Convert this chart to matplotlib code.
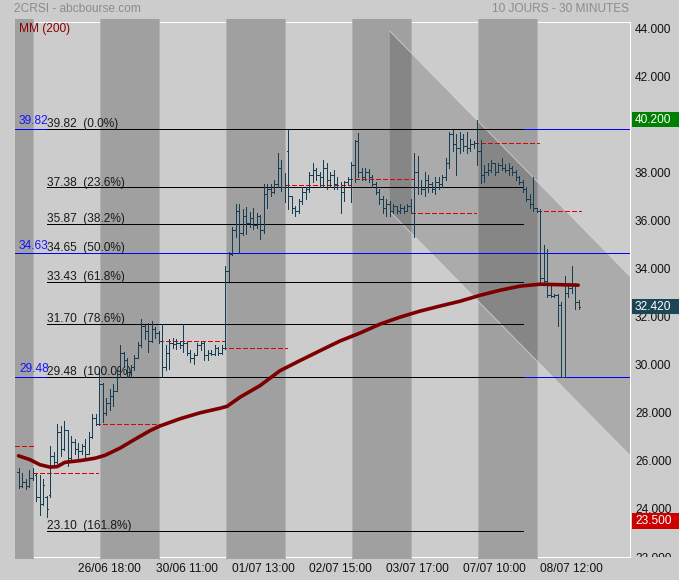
import matplotlib
matplotlib.use('Agg')
import matplotlib.pyplot as plt
import numpy as np
from matplotlib.collections import LineCollection
from matplotlib.patches import Polygon, Rectangle
from matplotlib.transforms import Bbox, TransformedBbox, blended_transform_factory

plt.rcParams['font.family'] = ['Liberation Sans', 'DejaVu Sans']

# ---------------- data (open, high, low, close) per trading day ----------------
day_25_06 = [(25.55, 25.71, 24.88, 24.95), (24.95, 25.50, 24.90, 25.10), (25.10, 25.25, 24.85, 24.95),
             (24.95, 25.60, 24.90, 25.30), (25.30, 25.70, 25.20, 25.51)]
day_26_06 = [(25.42, 25.45, 24.31, 24.50), (24.50, 25.42, 23.73, 24.20), (24.20, 25.26, 24.15, 25.00),
             (24.50, 24.55, 23.68, 24.00), (24.60, 26.63, 24.51, 26.20), (26.20, 26.38, 25.80, 25.95),
             (25.95, 27.54, 25.90, 27.20), (27.20, 27.46, 26.20, 26.50), (26.50, 27.67, 26.45, 27.30),
             (27.30, 27.30, 25.80, 26.10), (26.10, 27.05, 26.00, 26.80), (26.80, 26.92, 26.30, 26.50),
             (26.50, 26.75, 26.05, 26.40), (26.40, 26.70, 26.30, 26.60), (26.60, 26.90, 26.10, 26.30),
             (26.30, 27.20, 26.30, 27.00), (27.00, 27.95, 26.95, 27.80), (27.80, 27.95, 27.50, 27.54)]
day_27_06 = [(27.54, 29.70, 27.50, 29.20), (29.20, 29.25, 27.62, 28.00), (28.00, 28.60, 27.90, 28.40),
             (28.40, 29.00, 28.10, 28.70), (28.70, 29.20, 28.30, 28.90), (28.90, 29.80, 28.90, 29.60),
             (29.60, 30.80, 29.48, 30.50), (30.50, 30.55, 29.90, 30.20), (30.20, 30.30, 29.50, 29.70),
             (29.70, 30.00, 29.49, 29.90), (29.90, 30.40, 29.80, 30.30), (30.30, 30.95, 30.30, 30.80),
             (30.80, 31.90, 30.75, 31.60), (31.60, 31.65, 31.05, 31.40), (31.40, 31.75, 30.55, 31.00),
             (31.00, 31.80, 30.95, 31.50), (31.50, 31.55, 31.10, 31.30), (31.30, 31.40, 30.90, 30.97)]
day_30_06 = [(30.97, 31.69, 29.53, 29.90), (29.90, 30.80, 29.80, 30.50), (30.50, 31.07, 29.82, 30.90),
             (30.90, 31.10, 30.70, 30.85), (30.85, 31.05, 30.65, 30.90), (30.90, 31.00, 30.70, 30.80),
             (30.80, 31.69, 30.55, 30.90), (30.90, 30.95, 30.40, 30.50), (30.50, 30.60, 30.10, 30.30),
             (30.30, 30.50, 30.05, 30.40), (30.40, 30.90, 30.40, 30.80), (30.80, 31.00, 30.60, 30.90),
             (30.90, 30.95, 30.20, 30.40), (30.40, 30.60, 30.20, 30.50), (30.50, 30.60, 30.40, 30.45),
             (30.45, 30.80, 30.40, 30.70), (30.70, 30.75, 30.40, 30.50), (30.50, 30.80, 30.45, 30.68)]
day_01_07 = [(30.68, 34.10, 30.65, 33.90), (33.90, 34.67, 33.47, 34.60), (34.60, 35.75, 34.55, 35.60),
             (35.60, 36.67, 35.30, 36.40), (36.40, 36.67, 34.70, 35.50), (35.50, 36.46, 35.40, 36.20),
             (36.20, 36.55, 35.42, 35.90), (35.90, 36.35, 35.75, 36.10), (36.10, 36.50, 35.63, 35.80),
             (35.80, 36.30, 35.70, 36.20), (36.20, 36.25, 35.21, 35.60), (35.60, 37.50, 35.50, 37.10),
             (37.10, 37.50, 36.54, 37.30), (37.30, 37.50, 37.00, 37.20), (37.20, 37.70, 37.15, 37.50),
             (37.50, 38.82, 37.40, 38.20), (38.20, 38.53, 37.21, 37.40), (37.40, 37.99, 36.79, 37.49)]
day_02_07 = [(38.90, 39.78, 36.46, 37.00), (37.00, 37.00, 36.33, 36.50), (36.50, 36.60, 36.20, 36.40),
             (36.40, 36.90, 36.30, 36.80), (36.80, 37.40, 36.70, 37.20), (37.20, 37.40, 36.90, 37.30),
             (37.30, 38.00, 37.20, 37.90), (37.90, 38.40, 37.60, 38.10), (38.10, 38.20, 37.70, 37.90),
             (37.90, 38.00, 37.40, 37.80), (37.80, 38.50, 37.40, 38.20), (38.20, 38.40, 37.30, 37.70),
             (37.70, 38.00, 37.40, 37.90), (37.90, 38.10, 37.30, 37.50), (37.50, 37.80, 37.30, 37.40),
             (37.40, 37.60, 36.30, 37.20), (37.20, 37.65, 36.80, 37.60), (37.60, 37.80, 37.50, 37.73)]
day_03_07 = [(37.73, 38.45, 36.75, 38.30), (38.30, 39.36, 37.60, 39.30), (39.30, 39.65, 37.80, 38.00),
             (38.00, 38.20, 37.70, 37.80), (37.80, 38.20, 37.70, 38.00), (38.00, 38.15, 37.60, 37.80),
             (37.80, 37.90, 37.40, 37.50), (37.50, 37.60, 37.10, 37.20), (37.20, 37.30, 36.70, 36.90),
             (36.90, 37.00, 36.30, 36.50), (36.50, 36.90, 36.20, 36.70), (36.70, 36.80, 36.20, 36.40),
             (36.40, 36.70, 36.30, 36.60), (36.60, 36.60, 36.30, 36.40), (36.40, 36.70, 36.30, 36.50),
             (36.50, 36.60, 36.30, 36.40), (36.40, 36.70, 36.40, 36.60), (36.60, 36.90, 36.30, 36.32)]
day_04_07 = [(36.32, 38.82, 35.30, 38.00), (38.00, 38.70, 37.10, 37.40), (37.40, 37.70, 37.10, 37.30),
             (37.30, 38.00, 37.00, 37.70), (37.70, 37.90, 37.20, 37.50), (37.50, 37.60, 37.20, 37.30),
             (37.30, 37.80, 37.10, 37.60), (37.60, 37.80, 37.30, 37.50), (37.50, 37.90, 37.40, 37.80),
             (37.80, 38.60, 37.70, 38.40), (38.40, 39.70, 38.20, 39.60), (39.60, 39.75, 38.90, 39.20),
             (39.20, 39.60, 37.90, 39.00), (39.00, 39.70, 38.80, 39.40), (39.40, 39.60, 38.90, 39.10),
             (39.10, 39.70, 38.80, 39.00), (39.00, 39.40, 38.90, 39.20), (39.20, 39.30, 39.00, 39.23)]
day_07_07 = [(39.23, 40.20, 38.30, 38.90), (38.90, 39.36, 37.58, 37.90), (37.90, 38.30, 37.60, 38.00),
             (38.00, 38.40, 37.90, 38.10), (38.10, 38.50, 38.00, 38.40), (38.40, 38.40, 37.90, 38.00),
             (38.00, 38.40, 38.00, 38.30), (38.30, 38.60, 38.10, 38.20), (38.20, 38.35, 38.00, 38.10),
             (38.10, 38.40, 37.90, 38.20), (38.20, 38.25, 37.90, 38.00), (38.00, 38.10, 37.70, 37.80),
             (37.80, 37.85, 37.50, 37.60), (37.60, 37.70, 37.20, 37.30), (37.30, 37.40, 36.80, 36.90),
             (36.90, 37.10, 36.50, 36.70), (36.70, 37.79, 36.40, 36.50), (36.50, 36.50, 36.35, 36.40)]
day_08_07 = [(36.40, 36.46, 33.35, 33.60), (33.60, 35.00, 33.35, 33.50), (33.50, 34.80, 32.80, 32.90),
             (32.90, 33.40, 32.80, 32.85), (32.85, 32.95, 32.80, 32.90), (32.90, 32.95, 31.60, 32.50),
             (32.50, 32.60, 29.48, 29.50), (29.50, 33.70, 29.48, 33.00), (33.00, 33.30, 32.80, 33.20),
             (33.20, 34.10, 33.00, 33.30), (33.30, 33.40, 32.30, 32.60), (32.60, 32.70, 32.30, 32.42)]

days = [day_25_06, day_26_06, day_27_06, day_30_06, day_01_07,
        day_02_07, day_03_07, day_04_07, day_07_07, day_08_07]

# previous close reference level drawn over each day (red dashed)
prev_close = [26.63, 25.51, 27.54, 30.97, 30.68, 37.49, 37.73, 36.32, 39.23, 36.40]

# moving average MM(200), positions in bar index
ma_x = [0, 3.3, 6.1, 9, 11, 13.3, 17.6, 21.9, 24.7, 29, 32.7, 37.6, 40.4, 46.1, 51.9, 57.6,
        59.6, 63.3, 69, 74.7, 80.4, 86.1, 91.9, 97.6, 103.3, 109, 114.7, 120.4, 126.1,
        131.9, 137.6, 143.3, 149, 154.7, 159.9]
ma_v = [26.21, 26.05, 25.84, 25.74, 25.76, 25.94, 26.01, 26.11, 26.23, 26.53, 26.85, 27.26,
        27.45, 27.75, 28.00, 28.19, 28.27, 28.65, 29.13, 29.75, 30.17, 30.58, 30.99, 31.32,
        31.69, 31.98, 32.23, 32.44, 32.64, 32.89, 33.10, 33.27, 33.35, 33.33, 33.31]

# Fibonacci retracement
fib_levels = [39.82, 37.38, 35.87, 34.65, 33.43, 31.70, 29.48, 23.10]
fib_pcts = ['0.0%', '23.6%', '38.2%', '50.0%', '61.8%', '78.6%', '100.0%', '161.8%']
fib_span = [8.14, 144.1]

# horizontal blue lines (the 34.63 one is drawn over the 50% level)
blue_levels = [39.82, 34.63, 29.48]
blue_on_top = [34.63]

# descending channel (bar index, values)
chan_x = [106.1, 174.7]
chan_top = [43.88, 33.68]
chan_bot = [36.38, 26.22]

# x tick labels
xtick_pos = [26, 48, 70, 92, 114, 136, 158]
xtick_lbl = ['26/06 18:00', '30/06 11:00', '01/07 13:00', '02/07 15:00',
             '03/07 17:00', '07/07 10:00', '08/07 12:00']

# y tick values
ytick_vals = [22, 24, 26, 28, 30, 32, 34, 36, 38, 40, 42, 44]

# right-side value markers
markers = [40.2, 32.42, 23.5]
marker_colors = ['#008000', '#1c4556', '#cc0000']

# ---------------- figure ----------------
BG = '#cccccc'
DARK = '#a0a0a0'
BAR = '#163d52'
FS = 8.6
LW = 0.5   # drawn without antialiasing -> one pixel

fig = plt.figure(figsize=(6.79, 5.80), dpi=100, facecolor=BG)
ax = fig.add_axes([15 / 679, 1 - 557 / 580, 615 / 679, 535.5 / 580])
ax.set_facecolor(BG)
XL = (-1.0, 174.71)
ax.set_xlim(*XL)
ax.set_ylim(22.06, 44.28)

lens = [len(d) for d in days]
starts = np.cumsum([0] + lens)[:-1]
ends = starts + np.array(lens) - 1

bars = np.array([b for d in days for b in d])
o, h, l, c = bars.T
x = np.arange(len(bars))

# spines
for s in ['top', 'bottom', 'right']:
    ax.spines[s].set_color('white')
    ax.spines[s].set_linewidth(0.72)
ax.spines['left'].set_visible(False)

# alternating day shading
for k in range(0, len(days), 2):
    x0 = XL[0] if k == 0 else starts[k] + 0.4
    x1 = ends[k] + 0.2
    ax.axvspan(x0, x1, ymin=-0.004, ymax=1.004, color=DARK, lw=0, zorder=2.6, clip_on=False)
    for xe in ([x1] if k == 0 else [x0, x1]):
        ax.axvline(xe, ymin=-0.004, ymax=1.004, color='#b2b2b2', lw=LW, zorder=2.62,
                   clip_on=False, antialiased=False)

# channel
poly = Polygon([(chan_x[0], chan_top[0]), (chan_x[1], chan_top[1]),
                (chan_x[1], chan_bot[1]), (chan_x[0], chan_bot[0])],
               closed=True, fc='black', alpha=0.16, ec='none', zorder=2.7)
ax.add_patch(poly)
ax.plot(chan_x, chan_top, color='#dcdcdc', lw=0.7, alpha=0.7, zorder=2.75)
ax.plot(chan_x, chan_bot, color='#dcdcdc', lw=0.7, alpha=0.7, zorder=2.75)

# blue lines
for lv in blue_levels:
    z = 3.1 if lv in blue_on_top else 2.9
    ax.axhline(lv, color='#0000ff', lw=LW, zorder=z, antialiased=False)
    ax.annotate(f'{lv:.2f}', xy=(0.14, lv), xytext=(0, 3.4), textcoords='offset points',
                color='#1515ff', fontsize=FS, va='baseline', ha='left', zorder=4)

# fibonacci
for lv, p in zip(fib_levels, fib_pcts):
    hidden = any(abs(lv - b) < 0.05 for b in blue_on_top)
    if not hidden:
        ax.hlines(lv, fib_span[0], fib_span[1], color='black', lw=LW, zorder=3,
                  antialiased=False)
    ax.annotate(f'{lv:.2f}  ({p})', xy=(fib_span[0], lv), xytext=(0, 1.3),
                textcoords='offset points', color='#1a1a1a', fontsize=FS,
                va='baseline', ha='left', zorder=4)

# previous close dashed lines
for k, lv in enumerate(prev_close):
    x0 = XL[0] if k == 0 else starts[k] - 1.0
    ax.hlines(lv, x0, ends[k] + 0.6, colors='#e00000', lw=LW,
              linestyles=(0, (5.8, 4.3)), zorder=3.2, antialiased=False)

# OHLC bars
tw = 0.32
segs = []
for xi, oi, hi, li, ci in zip(x, o, h, l, c):
    segs.append([(xi, li), (xi, hi)])
    segs.append([(xi - tw, oi), (xi, oi)])
    segs.append([(xi, ci), (xi + tw, ci)])
ax.add_collection(LineCollection(segs, colors=BAR, linewidths=LW, zorder=3.3,
                                 antialiaseds=False))

# moving average
ax.plot(ma_x, ma_v, color='#7d0000', lw=2.6, solid_capstyle='round', zorder=3.5)

# axes ticks
ax.set_xticks(xtick_pos, xtick_lbl)
ax.tick_params(axis='x', length=0, pad=4, labelsize=FS, colors='#111111')
ax.yaxis.tick_right()
ax.set_yticks(ytick_vals)
# the 40.000 label sits fully under the green high marker
ax.set_yticklabels(['' if v == 40 else f'{v:.3f}' for v in ytick_vals])
ax.tick_params(axis='y', length=0, pad=3.6, labelsize=FS, colors='#111111')
clipbox = TransformedBbox(Bbox([[1.0, 0.0], [1.3, 1.0]]), ax.transAxes)
for t in ax.get_yticklabels():
    t.set_clip_box(clipbox)
    t.set_clip_on(True)

# right value markers
tr = blended_transform_factory(ax.transAxes, ax.transData)
for val, col in zip(markers, marker_colors):
    ax.add_patch(Rectangle((1.0033, val - 0.33), 0.09, 0.66, transform=tr, fc=col,
                           ec='none', clip_on=False, zorder=5))
    ax.text(1.0081, val, f'{val:.3f}', transform=tr, color='white', fontsize=FS,
            va='center', ha='left', zorder=6, clip_on=False)

# header texts
fig.text(14 / 679, 1 - 9 / 580, '2CRSI - abcbourse.com', color='#8c8c8c', fontsize=FS,
         va='center', ha='left')
fig.text(629 / 679, 1 - 9 / 580, '10 JOURS - 30 MINUTES', color='#8c8c8c', fontsize=FS,
         va='center', ha='right')
fig.text(19 / 679, 1 - 29 / 580, 'MM (200)', color='#8b0000', fontsize=FS,
         va='center', ha='left', zorder=10)

fig.savefig('out.png', dpi=100, facecolor=BG)
